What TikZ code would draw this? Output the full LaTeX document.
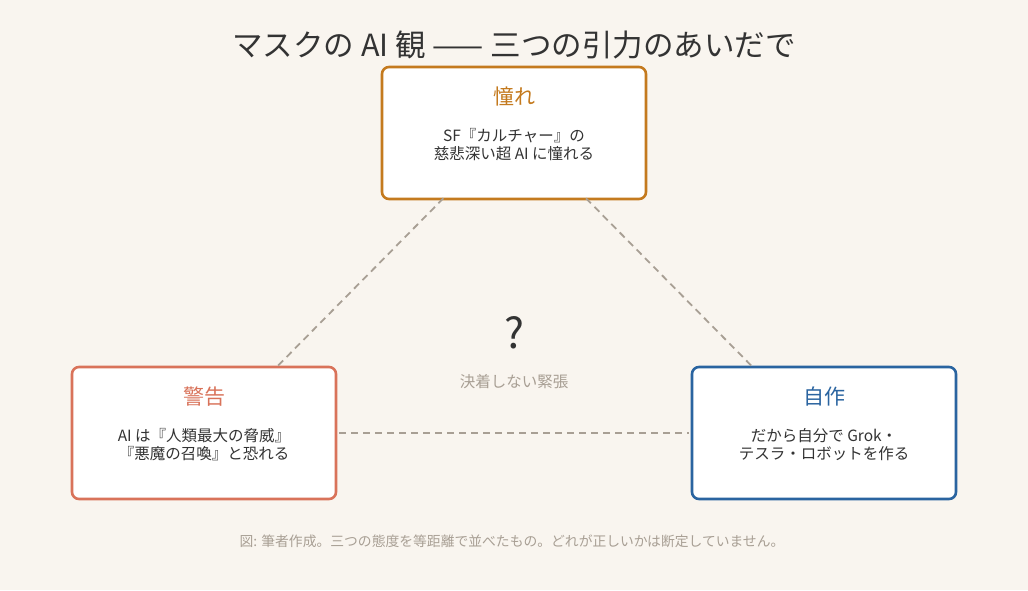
\documentclass[tikz,border=0pt]{standalone}
\usepackage{fontspec}
\usetikzlibrary{calc}
\setmainfont{Noto Sans CJK JP}
\definecolor{bg}{HTML}{F9F5EF}
\definecolor{cOr}{HTML}{C47A1E}
\definecolor{cRe}{HTML}{D9735A}
\definecolor{cBl}{HTML}{2A64A0}
\definecolor{cTx}{HTML}{333333}
\definecolor{cGr}{HTML}{A89F94}
\begin{document}
\begin{tikzpicture}[x=1pt,y=-1pt,
  box/.style={draw,line width=2.6pt,rounded corners=7pt,fill=white,minimum width=264pt,minimum height=132pt,inner sep=0pt},
  ttl/.style={font=\fontsize{21}{25}\selectfont},
  body/.style={font=\fontsize{15.5}{18}\selectfont,text=cTx,align=center},
  link/.style={cGr,line width=1.8pt,dash pattern=on 7pt off 5pt}]
\fill[bg] (0,0) rectangle (1028,590);
\useasboundingbox (0,0) rectangle (1028,590);
\node[font=\fontsize{30.5}{34}\selectfont,text=cTx] (title) at (514,45) {マスクの AI 観 —— 三つの引力のあいだで};
\node[box,draw=cOr] (top) at (514,133) {};
\node[box,draw=cRe] (lft) at (204,433) {};
\node[box,draw=cBl] (rgt) at (824,433) {};
\node[ttl,text=cOr] (topt) at (514,97) {憧れ};
\node[body] (topb) at (514,145) {SF『カルチャー』の\\慈悲深い超 AI に憧れる};
\node[ttl,text=cRe] (lftt) at (204,397) {警告};
\node[body] (lftb) at (204,445) {AI は『人類最大の脅威』\\『悪魔の召喚』と恐れる};
\node[ttl,text=cBl] (rgtt) at (824,397) {自作};
\node[body] (rgtb) at (824,445) {だから自分で Grok・\\テスラ・ロボットを作る};
\coordinate (a1) at ($(top.south west)!0.235!(top.south east)$);
\coordinate (a2) at ($(lft.north west)!0.77!(lft.north east)$);
\coordinate (b1) at ($(top.south west)!0.77!(top.south east)$);
\coordinate (b2) at ($(rgt.north west)!0.235!(rgt.north east)$);
\draw[link] ([yshift=2pt]a1) -- ([yshift=-2pt]a2);
\draw[link] ([yshift=2pt]b1) -- ([yshift=-2pt]b2);
\draw[link] ([xshift=2pt]lft.east) -- ([xshift=-2pt]rgt.west);
\node[font=\fontsize{42}{46}\selectfont,text=cTx] (q) at (514,333) {?};
\node[font=\fontsize{15.5}{18}\selectfont,text=cGr] (qt) at (514,382) {決着しない緊張};
\node[font=\fontsize{13.8}{16}\selectfont,text=cGr] (cap) at (512,541) {図: 筆者作成。三つの態度を等距離で並べたもの。どれが正しいかは断定していません。};
\end{tikzpicture}
\end{document}
